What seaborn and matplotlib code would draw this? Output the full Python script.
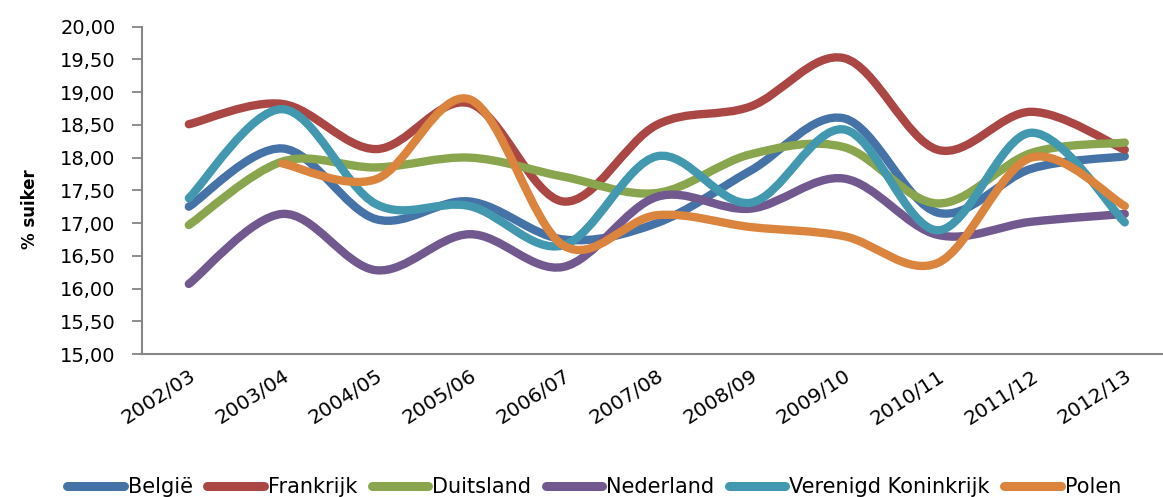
import numpy as np
import pandas as pd
import matplotlib
matplotlib.use("Agg")
import matplotlib.pyplot as plt
import seaborn as sns
from matplotlib.path import Path
from matplotlib.patches import PathPatch
from matplotlib.lines import Line2D

# ── data (% suiker per campagne) ──
seizoenen = ["2002/03", "2003/04", "2004/05", "2005/06", "2006/07", "2007/08",
             "2008/09", "2009/10", "2010/11", "2011/12", "2012/13"]
belgie = [17.25, 18.14, 17.06, 17.33, 16.75, 17.00, 17.80, 18.60, 17.16, 17.83, 18.02]
frankrijk = [18.51, 18.82, 18.13, 18.83, 17.33, 18.50, 18.78, 19.52, 18.12, 18.70, 18.12]
duitsland = [16.97, 17.94, 17.85, 18.00, 17.71, 17.46, 18.05, 18.16, 17.30, 18.07, 18.23]
nederland = [16.07, 17.14, 16.28, 16.83, 16.33, 17.40, 17.22, 17.68, 16.82, 17.02, 17.14]
vk = [17.38, 18.74, 17.29, 17.26, 16.66, 18.02, 17.31, 18.43, 16.89, 18.38, 17.01]
polen = [np.nan, 17.91, 17.67, 18.89, 16.66, 17.12, 16.94, 16.80, 16.39, 18.00, 17.26]

landen = ["België", "Frankrijk", "Duitsland", "Nederland", "Verenigd Koninkrijk", "Polen"]
kleuren = ["#4572A7", "#AA4643", "#89A54E", "#71588F", "#4198AF", "#DB843D"]

df = pd.DataFrame({"seizoen": seizoenen, "België": belgie, "Frankrijk": frankrijk,
                   "Duitsland": duitsland, "Nederland": nederland,
                   "Verenigd Koninkrijk": vk, "Polen": polen})


def smooth_path(xs, ys):
    # Excel-style smoothed line: cubic bezier with catmull-rom control points
    pts = np.column_stack([xs, ys])
    verts = [pts[0]]
    codes = [Path.MOVETO]
    n = len(pts)
    for i in range(n - 1):
        p0 = pts[max(i - 1, 0)]
        p1, p2 = pts[i], pts[i + 1]
        p3 = pts[min(i + 2, n - 1)]
        verts += [p1 + (p2 - p0) / 6, p2 - (p3 - p1) / 6, p2]
        codes += [Path.CURVE4] * 3
    return Path(verts, codes)


sns.set_style("white")
plt.rcParams["font.family"] = ["DejaVu Sans"]
plt.rcParams["text.color"] = "black"
plt.rcParams["xtick.labelcolor"] = "black"
plt.rcParams["ytick.labelcolor"] = "black"

fig = plt.figure(figsize=(11.63, 4.97), dpi=100)
ax = fig.add_axes([142 / 1163, 1 - 354 / 497, (1171.6 - 142) / 1163, (354 - 26.7) / 497])

x = np.arange(len(seizoenen))
for land, kleur in zip(landen, kleuren):
    y = df[land].to_numpy(dtype=float)
    ok = ~np.isnan(y)
    ax.add_patch(PathPatch(smooth_path(x[ok], y[ok]), fill=False, ec=kleur, lw=6,
                           capstyle="round", joinstyle="round", zorder=3))

ax.set_xlim(-0.5, len(seizoenen) - 0.5)
ax.set_ylim(15, 20)
yt = np.arange(15, 20.01, 0.5)
ax.set_yticks(yt)
ax.set_yticklabels([f"{v:.2f}".replace(".", ",") for v in yt], fontsize=14)
ax.set_xticks(x)
ax.set_xticklabels(seizoenen, fontsize=14.5, rotation=33, ha="right", va="top",
                   rotation_mode="anchor")
ax.set_xticks(np.arange(-0.5, len(seizoenen)), minor=True)
ax.tick_params(axis="x", which="major", length=0, pad=9)
ax.tick_params(axis="x", which="minor", length=6, width=1.3, color="#868686", direction="out")
ax.tick_params(axis="y", length=7, width=1.3, color="#868686", direction="out", pad=12, left=True)

for s in ["top", "right"]:
    ax.spines[s].set_visible(False)
for s in ["left", "bottom"]:
    ax.spines[s].set_color("#868686")
    ax.spines[s].set_linewidth(1.5)

fig.text(30 / 1163, 1 - 209 / 497, "% suiker", rotation=90, fontsize=12,
         fontweight="bold", ha="center", va="center")

handles = [Line2D([], [], color=k, lw=6.5, solid_capstyle="round") for k in kleuren]
fig.legend(handles, landen, loc="center", bbox_to_anchor=(0.511, 0.02), ncol=6,
           frameon=False, fontsize=15, handlelength=2.7, handletextpad=0.2,
           columnspacing=0.7, borderpad=0)

fig.savefig("out.png", dpi=100)
